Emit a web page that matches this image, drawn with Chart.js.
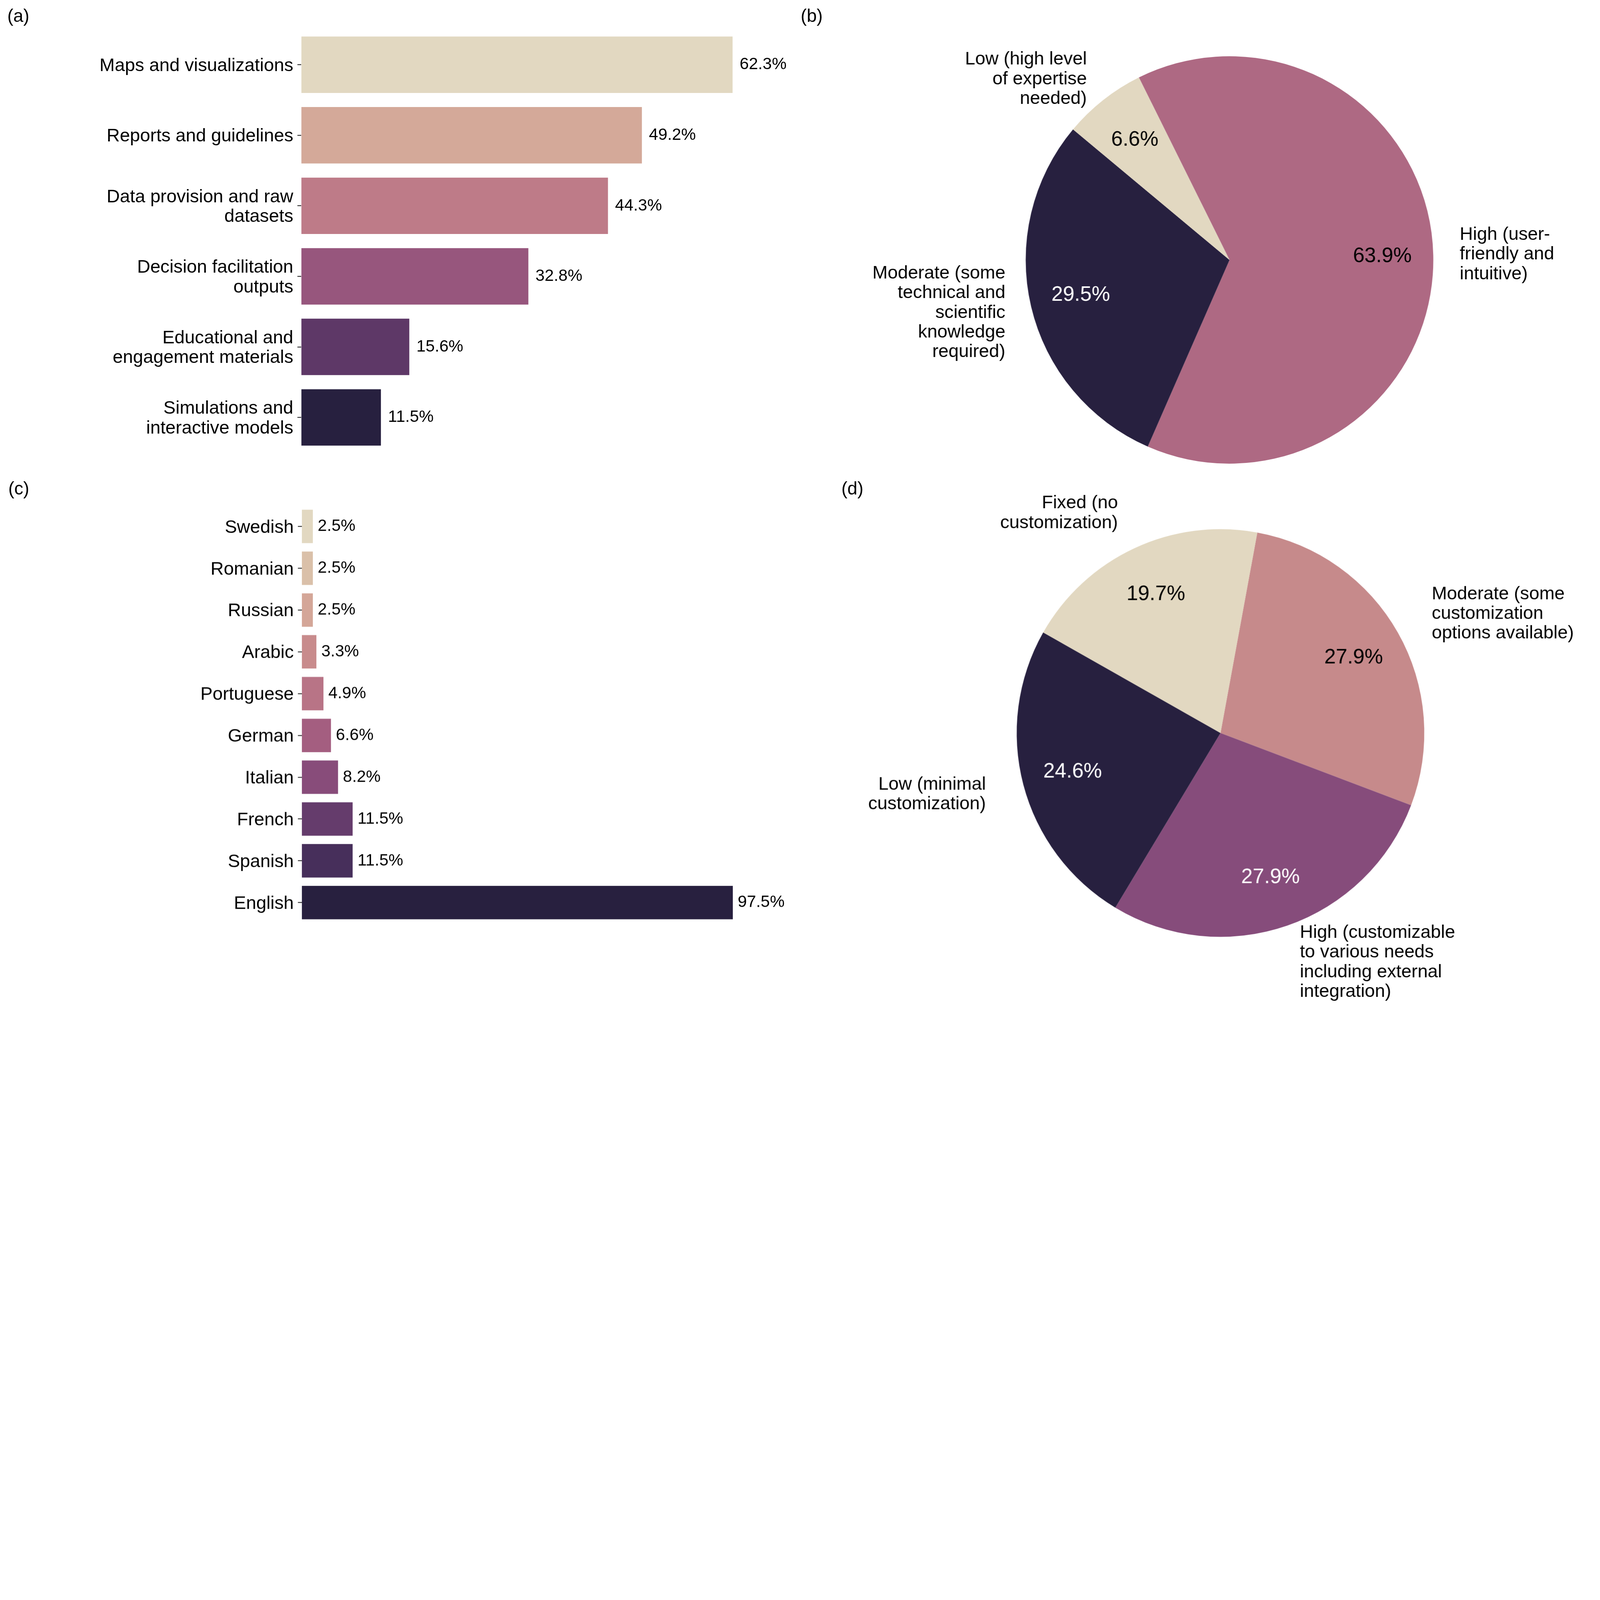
<!DOCTYPE html>
<html lang="en">
<head>
<meta charset="UTF-8">
<title>Survey of tool outputs, usability, languages and customization</title>
<script src="https://cdn.jsdelivr.net/npm/chart.js"></script>
<style>
  html, body { margin: 0; padding: 0; background: #fff; overflow: hidden; }
  #page { position: relative; font-family: "Liberation Sans", Arial, sans-serif; }
  .panel { position: absolute; }
  .tag { position: absolute; line-height: 1; color: #000; }
</style>
</head>
<body>
<div id="page">
  <div class="panel" id="panelA"><canvas id="chartA"></canvas></div>
  <div class="panel" id="panelB"><canvas id="chartB"></canvas></div>
  <div class="panel" id="panelC"><canvas id="chartC"></canvas></div>
  <div class="panel" id="panelD"><canvas id="chartD"></canvas></div>
  <div class="tag" id="tagA">(a)</div>
  <div class="tag" id="tagB">(b)</div>
  <div class="tag" id="tagC">(c)</div>
  <div class="tag" id="tagD">(d)</div>
</div>

<script>
  const FONT = '"Liberation Sans", Arial, sans-serif';

  // (a) output types
  const outputCategories = [
    'Maps and visualizations',
    'Reports and guidelines',
    'Data provision and raw\ndatasets',
    'Decision facilitation\noutputs',
    'Educational and\nengagement materials',
    'Simulations and\ninteractive models'
  ];
  const outputShares = [62.3, 49.2, 44.3, 32.8, 15.6, 11.5];
  const outputColors = ['#E2D8C1', '#D4A999', '#BE7B88', '#97567D', '#5E3867', '#27203F'];

  // (b) usability (listed in clockwise drawing order)
  const usabilityLabels = [
    'High (user-\nfriendly and\nintuitive)',
    'Moderate (some\ntechnical and\nscientific\nknowledge\nrequired)',
    'Low (high level\nof expertise\nneeded)'
  ];
  const usabilityShares = [63.9, 29.5, 6.6];
  const usabilityColors = ['#AE6983', '#27203F', '#E2D8C1'];
  const usabilityPctColors = ['#000', '#fff', '#000'];

  // (c) languages
  const languages = ['Swedish', 'Romanian', 'Russian', 'Arabic', 'Portuguese', 'German', 'Italian', 'French', 'Spanish', 'English'];
  const languageShares = [2.5, 2.5, 2.5, 3.3, 4.9, 6.6, 8.2, 11.5, 11.5, 97.5];
  const languageColors = ['#E2D8C1', '#DAC0A9', '#D4A698', '#C88B8C', '#B87486', '#A45E80', '#884C7A', '#653C6C', '#472F5B', '#28203F'];

  // (d) customization (clockwise drawing order)
  const customLabels = [
    'Moderate (some\ncustomization\noptions available)',
    'High (customizable\nto various needs\nincluding external\nintegration)',
    'Low (minimal\ncustomization)',
    'Fixed (no\ncustomization)'
  ];
  const customShares = [27.9, 27.9, 24.6, 19.7];
  const customColors = ['#C68A8B', '#864C7B', '#27203F', '#E2D8C1'];
  const customPctColors = ['#000', '#fff', '#fff', '#000'];

  // layout is worked out in pixels of the 6574 wide figure, then scaled to the viewport
  const k = window.innerWidth / 6574;
  const S = v => v * k;

  const page = document.getElementById('page');
  page.style.width = S(6574) + 'px';
  page.style.height = S(4168) + 'px';

  function place(id, left, top, width, height) {
    const el = document.getElementById(id);
    el.style.left = S(left) + 'px';
    el.style.top = S(top) + 'px';
    if (width) el.style.width = S(width) + 'px';
    if (height) el.style.height = S(height) + 'px';
  }
  place('panelA', 0, 0, 3300, 1950);
  place('panelB', 3300, 0, 3274, 1950);
  place('panelC', 0, 1950, 3300, 2218);
  place('panelD', 3300, 1950, 3274, 2218);
  place('tagA', 30, 28);
  place('tagB', 3290, 28);
  place('tagC', 34, 1970);
  place('tagD', 3457, 1970);
  document.querySelectorAll('.tag').forEach(t => t.style.fontSize = S(74) + 'px');

  function pad(p) {
    return { top: S(p.top), bottom: S(p.bottom), left: S(p.left), right: S(p.right) };
  }

  // percentage text right of each bar
  const barValueLabels = {
    id: 'barValueLabels',
    afterDatasetsDraw(chart, args, opts) {
      const ctx = chart.ctx;
      const meta = chart.getDatasetMeta(0);
      const values = chart.data.datasets[0].data;
      ctx.save();
      ctx.font = opts.size + 'px ' + FONT;
      ctx.fillStyle = '#000';
      ctx.textAlign = 'left';
      ctx.textBaseline = 'middle';
      meta.data.forEach((bar, i) => {
        ctx.fillText(values[i].toFixed(1) + '%', bar.x + opts.gap, bar.y);
      });
      ctx.restore();
    }
  };

  // percentages inside wedges and category names outside, matplotlib style
  const pieLabels = {
    id: 'pieLabels',
    afterDatasetsDraw(chart, args, opts) {
      const ctx = chart.ctx;
      const meta = chart.getDatasetMeta(0);
      const values = chart.data.datasets[0].data;
      ctx.save();
      meta.data.forEach((arc, i) => {
        const mid = (arc.startAngle + arc.endAngle) / 2;
        const r = arc.outerRadius;
        const cos = Math.cos(mid), sin = Math.sin(mid);

        ctx.font = opts.pctSize + 'px ' + FONT;
        ctx.fillStyle = opts.pctColors[i];
        ctx.textAlign = 'center';
        ctx.textBaseline = 'middle';
        ctx.fillText(values[i].toFixed(1) + '%', arc.x + cos * r * opts.pctDistance, arc.y + sin * r * opts.pctDistance);

        const lines = chart.data.labels[i].split('\n');
        const lx = arc.x + cos * r * opts.labelDistance;
        const ly = arc.y + sin * r * opts.labelDistance;
        ctx.font = opts.labelSize + 'px ' + FONT;
        ctx.fillStyle = '#000';
        ctx.textAlign = cos >= 0 ? 'left' : 'right';
        const y0 = ly - (lines.length - 1) * opts.lineHeight / 2;
        lines.forEach((t, n) => ctx.fillText(t, lx, y0 + n * opts.lineHeight));
      });
      ctx.restore();
    }
  };

  function barChart(id, labels, values, colors, padding, axisWidth, max, gap) {
    return new Chart(document.getElementById(id), {
      type: 'bar',
      data: {
        labels: labels.map(s => s.split('\n')),
        datasets: [{
          data: values,
          backgroundColor: colors,
          borderWidth: 0,
          categoryPercentage: 1,
          barPercentage: 0.8
        }]
      },
      options: {
        indexAxis: 'y',
        responsive: true,
        maintainAspectRatio: false,
        animation: false,
        layout: { padding: pad(padding) },
        scales: {
          x: { display: false, min: 0, max: max },
          y: {
            afterFit(scale) { scale.width = S(axisWidth); },
            border: { display: false },
            grid: {
              display: true, drawOnChartArea: false, drawTicks: true,
              tickLength: S(16), tickWidth: S(3), tickColor: '#000', offset: false
            },
            ticks: {
              color: '#000', padding: S(17), autoSkip: false, labelOffset: S(5),
              font: { family: FONT, size: S(75), lineHeight: 1.08 }
            }
          }
        },
        plugins: {
          legend: { display: false },
          tooltip: { enabled: false },
          barValueLabels: { gap: S(gap), size: S(68) }
        }
      },
      plugins: [barValueLabels]
    });
  }

  function pieChart(id, labels, values, colors, pctColors, padding, rotation, labelDistance) {
    return new Chart(document.getElementById(id), {
      type: 'pie',
      data: {
        labels: labels,
        datasets: [{ data: values, backgroundColor: colors, borderWidth: 0 }]
      },
      options: {
        responsive: true,
        maintainAspectRatio: false,
        animation: false,
        rotation: rotation,
        layout: { padding: pad(padding) },
        plugins: {
          legend: { display: false },
          tooltip: { enabled: false },
          pieLabels: {
            pctColors: pctColors, pctSize: S(85), pctDistance: 0.75,
            labelSize: S(75), lineHeight: S(81), labelDistance: labelDistance
          }
        }
      },
      plugins: [pieLabels]
    });
  }

  barChart('chartA', outputCategories, outputShares, outputColors,
           { top: 121, bottom: 90, left: 0, right: 71 }, 1238, 70, 29);
  pieChart('chartB', usabilityLabels, usabilityShares, usabilityColors, usabilityPctColors,
           { top: 231, bottom: 45, left: 914, right: 686 }, -26.4, 1.13);
  barChart('chartC', languages, languageShares, languageColors,
           { top: 127, bottom: 375, left: 0, right: 62 }, 1240, 110, 20);
  pieChart('chartD', customLabels, customShares, customColors, customPctColors,
           { top: 224, bottom: 320, left: 877, right: 723 }, 10.4, 1.19);
</script>
</body>
</html>
